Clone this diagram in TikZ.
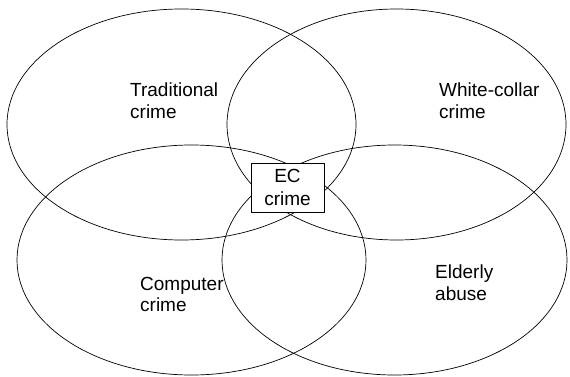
\documentclass[tikz,border=0pt]{standalone}
\usepackage{fontspec}
\setmainfont{Liberation Sans}
\begin{document}
\begin{tikzpicture}[x=1pt,y=-1pt,
  venn/.style={draw=black,line width=0.7pt},
  lbl/.style={anchor=base west,inner sep=0pt,align=left,font=\fontsize{19}{21.5}\selectfont},
  ecbox/.style={draw=black,fill=white,line width=0.7pt,minimum width=73pt,minimum height=49pt,inner sep=0pt,align=center,font=\fontsize{19}{23}\selectfont}]
\useasboundingbox (0,0) rectangle (570,377);
\draw[venn] (181.5,124.5) ellipse [x radius=174.5, y radius=115.5];
\draw[venn] (396.5,124.5) ellipse [x radius=169.5, y radius=115.5];
\draw[venn] (191.5,260) ellipse [x radius=174.5, y radius=115];
\draw[venn] (394.5,260) ellipse [x radius=172.5, y radius=115];
\node[lbl] (trad) at (130,118.2) {Traditional\\crime};
\node[lbl] (white) at (439,118.2) {White-collar\\crime};
\node[lbl] (comp) at (140,311.8) {Computer\\crime};
\node[lbl] (elder) at (435,300.2) {Elderly\\abuse};
\node[ecbox] (ec) at (287.5,187.5) {EC\\crime};
\end{tikzpicture}
\end{document}
